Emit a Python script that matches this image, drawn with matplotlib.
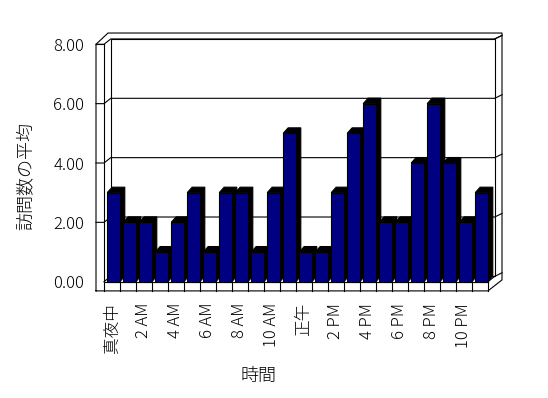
import numpy as np
import matplotlib
matplotlib.use("Agg")
import matplotlib.pyplot as plt
from matplotlib.patches import Polygon

plt.rcParams['font.family'] = ['Noto Sans CJK JP', 'DejaVu Sans']
plt.rcParams['font.weight'] = 'light'

# データ: 時間帯ごとの訪問数の平均
hours = list(range(24))
visits = [3, 2, 2, 1, 2, 3, 1, 3, 3, 1, 3, 5, 1, 1, 3, 5, 6, 2, 2, 4, 6, 4, 2, 3]
tick_pos = list(range(0, 24, 2))
tick_labels = ['真夜中', '2 AM', '4 AM', '6 AM', '8 AM', '10 AM',
               '正午', '2 PM', '4 PM', '6 PM', '8 PM', '10 PM']
y_ticks = [0, 2, 4, 6, 8]

W, H = 548, 398
fig = plt.figure(figsize=(W / 100, H / 100), dpi=100)
ax = fig.add_axes([104 / W, (H - 281.7) / H, 384 / W, 237.4 / H])
n = len(hours)
ymax = y_ticks[-1]
ax.set_xlim(0, n)
ax.set_ylim(0, ymax)
for s in ax.spines.values():
    s.set_visible(False)

lw = 0.8
kw = dict(color='black', lw=lw, clip_on=False, zorder=1)

# 奥行きのオフセット (データ単位)
ox, oy = 0.42, 0.18        # 背面の壁
wall = 0.5                 # 左の壁の厚さ
floor = 0.31               # 床の厚さ
rx, ry = n + 0.875, 0.12   # 右側の外枠

# 背面の壁 (白)
ax.add_patch(Polygon([(ox, oy), (n + ox, oy), (n + ox, ymax + oy), (ox, ymax + oy)],
                     closed=True, fc='white', ec='black', lw=lw, clip_on=False, zorder=0))
# 外枠
ax.plot([-wall, -wall, 0.25, rx, rx, n, -wall],
        [-floor, ymax, ymax + 0.38, ymax + 0.38, -floor + 0.37, -floor, -floor], **kw)
ax.plot([0, 0], [0, ymax], **kw)
ax.plot([-wall, 0], [ymax, ymax], **kw)
ax.plot([0, n], [0, 0], **kw)
ax.plot([n, n + ox], [0, oy], **kw)
ax.plot([0, ox], [0, oy], **kw)
ax.plot([n + ox, rx], [ymax + oy, ymax + oy + ry], **kw)
ax.plot([n + ox, rx], [oy, oy + ry], **kw)

# 目盛り線
for v in y_ticks[1:]:
    ax.plot([-wall, 0, ox, n + ox, rx], [v, v, v + oy, v + oy, v + oy + ry], **kw)

# 床の区切り
for i in range(n + 1):
    ax.plot([i, i], [0, -floor], **kw)

# 棒 (側面・上面は黒、前面は紺)
bw, bx0 = 0.79, 0.2
bdx, bdy = 0.31, 0.185
for x, v in zip(hours, visits):
    x0 = x + bx0
    x1 = x0 + bw
    ax.add_patch(Polygon([(x1, 0), (x1 + bdx, bdy), (x1 + bdx, v + bdy),
                          (x0 + bdx, v + bdy), (x0, v), (x1, v)],
                         closed=True, fc='black', ec='black', lw=lw,
                         clip_on=False, zorder=2))
ax.bar([h + bx0 for h in hours], visits, width=bw, align='edge',
       color='#000080', edgecolor='black', linewidth=lw, zorder=3, clip_on=False)

ax.set_yticks(y_ticks)
ax.set_yticklabels([f'{v:.2f}' for v in y_ticks])
ax.set_xticks([p + 0.5 for p in tick_pos])
ax.set_xticklabels(tick_labels, rotation=90)
ax.tick_params(axis='y', length=0, pad=14.4, labelsize=12)
ax.tick_params(axis='x', length=0, pad=15.3, labelsize=12)

fig.text(25.5 / W, 1 - 176.5 / H, '訪問数の平均', rotation=90,
         ha='center', va='center', fontsize=13)
fig.text(258.4 / W, 1 - 375.5 / H, '時間', ha='center', va='center', fontsize=13)

fig.savefig('out.png', dpi=100, facecolor='white')
